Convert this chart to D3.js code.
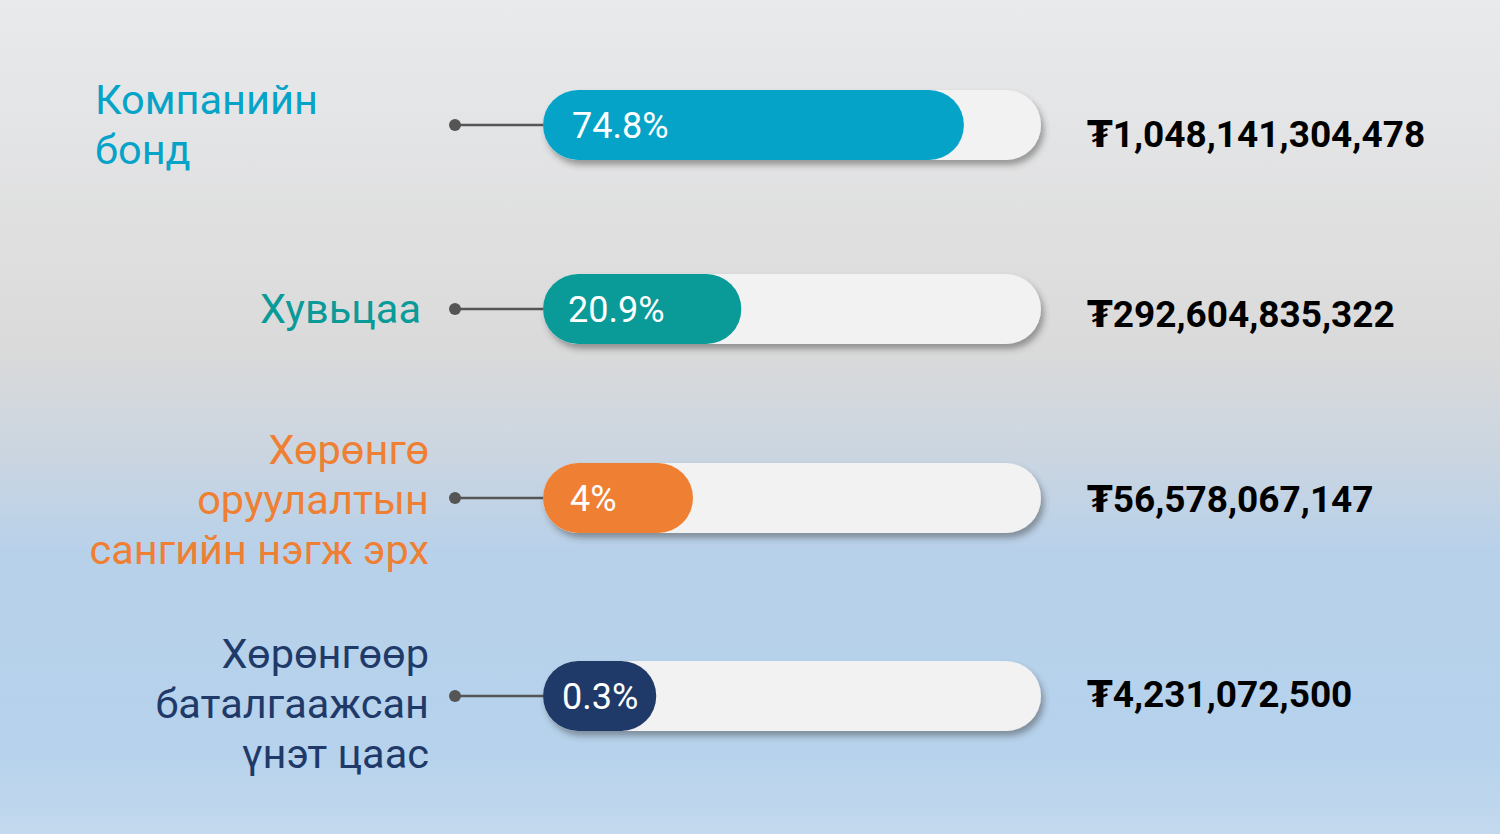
<!DOCTYPE html>
<html><head><meta charset="utf-8">
<script src="https://cdn.jsdelivr.net/npm/d3@7"></script>
<style>html,body{margin:0;padding:0;overflow:hidden}svg{display:block}</style>
</head><body>
<svg id="chart" width="1500" height="834"></svg>
<script>
const categories = [
  ["Компанийн", "бонд"],
  ["Хувьцаа"],
  ["Хөрөнгө", "оруулалтын", "сангийн нэгж эрх"],
  ["Хөрөнгөөр", "баталгаажсан", "үнэт цаас"]
];
const percents = [74.8, 20.9, 4, 0.3];
const percentLabels = ["74.8%", "20.9%", "4%", "0.3%"];
const amounts = [1048141304478, 292604835322, 56578067147, 4231072500];
const colors = ["#06a3c9", "#0a9a97", "#ee7f33", "#1f3a68"];

const W = 1500, H = 834;
const svg = d3.select("#chart");
const defs = svg.append("defs");
const grad = defs.append("linearGradient").attr("id","bg").attr("x1",0).attr("y1",0).attr("x2",0).attr("y2",1);
[[0,"#e9eaec"],[0.42,"#dadada"],[0.55,"#cad5e1"],[0.66,"#b8d1ea"],[0.9,"#b6d2ec"],[1,"#c3d9ee"]]
  .forEach(([o,c]) => grad.append("stop").attr("offset",o).attr("stop-color",c));
svg.append("rect").attr("width",W).attr("height",H).attr("fill","url(#bg)");

const sh = defs.append("filter").attr("id","shadow").attr("x","-10%").attr("y","-30%").attr("width","130%").attr("height","190%");
sh.append("feDropShadow").attr("dx",3).attr("dy",5).attr("stdDeviation",3).attr("flood-color","#3a3a3a").attr("flood-opacity",0.45);

// layout (positions only)
const yc = [125, 309, 498, 696];
const labelShift = [14, 14, 16, 22];
const pctPad = [29, 25, 27, 19];
const valShift = [22, 18, 14, 11];
const trackX = 543, trackW = 498, barH = 70;
const x = d3.scaleLinear().domain([0, 100]).range([112, 525]);

const row = svg.selectAll("g.row").data(percents).join("g").attr("class","row")
  .attr("transform",(d,i)=>`translate(0,${yc[i]})`);

row.append("line").attr("x1",455).attr("x2",trackX+10).attr("y1",0).attr("y2",0)
  .attr("stroke","#555").attr("stroke-width",2.5);
row.append("circle").attr("cx",455).attr("cy",0).attr("r",6).attr("fill","#555");

row.append("rect").attr("x",trackX).attr("y",-barH/2).attr("width",trackW).attr("height",barH)
  .attr("rx",barH/2).attr("fill","#f2f2f2").attr("filter","url(#shadow)");
row.append("rect").attr("x",trackX).attr("y",-barH/2)
  .attr("width",d=>Math.min(Math.max(x(d), 150*(d>=1)), trackW)).attr("height",barH)
  .attr("rx",barH/2).attr("fill",(d,i)=>colors[i]);

row.append("text").attr("x",(d,i)=> trackX + pctPad[i]).attr("y",13)
  .attr("fill","#fff").attr("font-family","Roboto, 'Noto Sans', sans-serif")
  .attr("font-size",36).text((d,i)=>percentLabels[i]);

const fmt = d3.format(",.0f");
row.append("text").attr("x",1087).attr("y",(d,i)=>valShift[i])
  .attr("fill","#000").attr("font-family","Roboto, 'DejaVu Sans', sans-serif")
  .attr("font-weight",700).attr("font-size",37)
  .text((d,i)=>"₮"+fmt(amounts[i]));

// category labels
const labelFont = "Roboto, 'Noto Sans', sans-serif";
categories.forEach((lines,i)=>{
  const left = i===0;
  const lh = 50;
  const t = svg.append("text").attr("font-family",labelFont).attr("font-size",41.5)
    .attr("fill",colors[i]).attr("text-anchor", left ? "start" : "end");
  const n = lines.length;
  const baseY = yc[i] - (n-1)*lh/2 + labelShift[i];
  lines.forEach((s,j)=>{
    t.append("tspan").attr("x", left ? 95 : (i===1 ? 421 : 429)).attr("y", baseY + j*lh).text(s);
  });
});
</script>
</body></html>
